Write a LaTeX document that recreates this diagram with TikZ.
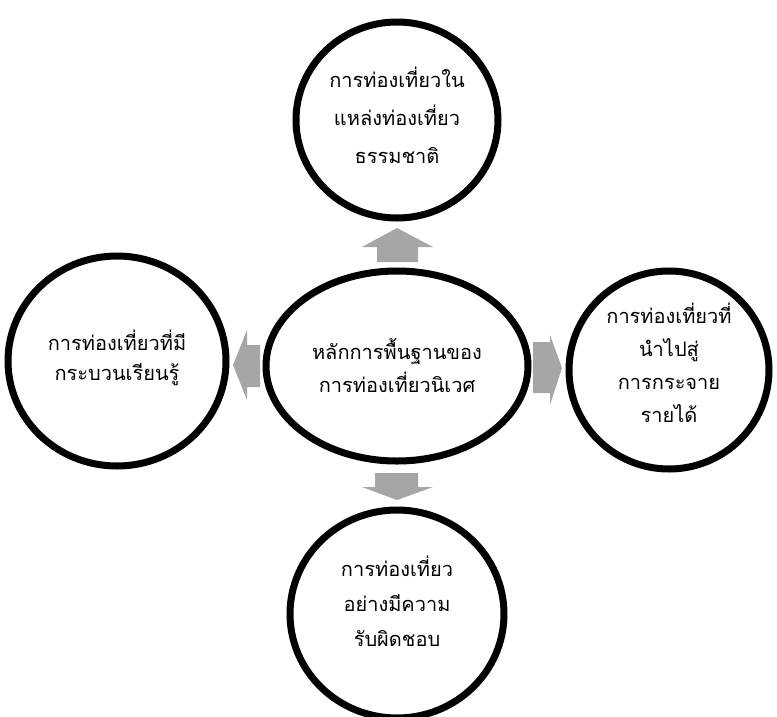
\documentclass[tikz,border=0pt]{standalone}
\usepackage{fontspec}
\newfontfamily\thaifont[Script=Thai]{Loma}
\usetikzlibrary{shapes.geometric}
\definecolor{arrgray}{HTML}{A6A6A6}
\tikzset{
  bubble/.style={draw=black, line width=7pt, ellipse, inner sep=0pt},
  label/.style={align=center, inner sep=0pt, font=\thaifont\fontsize{20}{#1}\selectfont},
  label/.default=34,
  blockarrow/.style={fill=arrgray, draw=none}
}
\begin{document}
\begin{tikzpicture}[x=1pt,y=-1pt]
\useasboundingbox (0,0) rectangle (777,716);
\clip (0,0) rectangle (777,716);
\node[bubble, minimum width=202pt, minimum height=196pt] (top) at (397,120) {};
\node[bubble, minimum width=262pt, minimum height=190pt] (mid) at (397,366) {};
\node[bubble, minimum width=218pt, minimum height=210pt] (left) at (117,361) {};
\node[bubble, minimum width=200pt, minimum height=198pt] (right) at (669,370) {};
\node[bubble, minimum width=214pt, minimum height=208pt] (bottom) at (397,614) {};
\node[label=38] (toptext) at (397,115) {การท่องเที่ยวใน\\แหล่งท่องเที่ยว\\ธรรมชาติ};
\node[label=33] (midtext) at (397,365) {หลักการพื้นฐานของ\\การท่องเที่ยวนิเวศ};
\node[label=30] (lefttext) at (117,358) {การท่องเที่ยวที่มี\\กระบวนเรียนรู้};
\node[label=33] (righttext) at (669,363) {การท่องเที่ยวที่\\นำไปสู่\\การกระจาย\\รายได้};
\node[label=35] (bottomtext) at (397,601) {การท่องเที่ยว\\อย่างมีความ\\รับผิดชอบ};
% up arrow
\fill[blockarrow] (377,262) -- (377,247) -- (362,247) -- (397,228) -- (433,247) -- (418,247) -- (418,262) -- cycle;
% left arrow
\fill[blockarrow] (260,345) -- (247,345) -- (247,330) -- (233,365) -- (247,400) -- (247,387) -- (260,387) -- cycle;
% right arrow
\fill[blockarrow] (533,342) -- (550,342) -- (550,335) -- (562,368) -- (550,405) -- (550,393) -- (533,393) -- cycle;
% down arrow
\fill[blockarrow] (375,473) -- (418,473) -- (418,487) -- (433,487) -- (397,500) -- (362,487) -- (375,487) -- cycle;
\end{tikzpicture}
\end{document}
